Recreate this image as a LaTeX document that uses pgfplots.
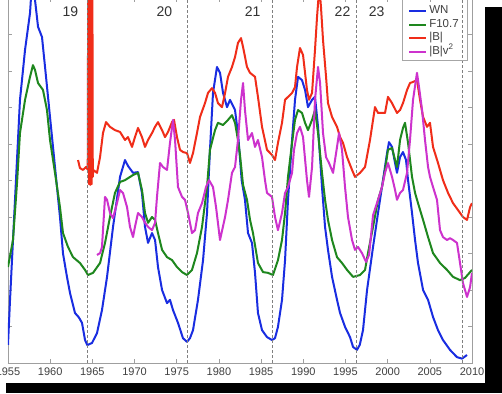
\documentclass[border=0pt]{standalone}
\usepackage{fontspec}
\setmainfont{Liberation Sans}
\usepackage{pgfplots}
\pgfplotsset{compat=1.18}
\definecolor{cWN}{RGB}{25,45,225}
\definecolor{cF}{RGB}{30,135,30}
\definecolor{cB}{RGB}{240,45,25}
\definecolor{cBV}{RGB}{205,50,205}
\begin{document}
\begin{tikzpicture}[x=1pt,y=1pt]
\useasboundingbox (0,0) rectangle (502,393);
\clip (0,0) rectangle (502,393);
\fill[white] (0,0) rectangle (502,393);
\begin{axis}[
  at={(8pt,30pt)}, anchor=south west,
  scale only axis, width=464pt, height=365pt,
  xmin=1955, xmax=2010, ymin=0, ymax=10,
  xtick={1955,1960,...,2010},
  xticklabels={1955,1960,1965,1970,1975,1980,1985,1990,1995,2000,2005,2010},
  ytick={0,...,10}, yticklabels={},
  tick align=inside,
  axis line style={gray!75},
  tick style={gray!75, line width=0.5pt},
  major tick length=4pt,
  xticklabel style={font=\fontsize{11}{13}\selectfont, text=black!75, yshift=-1.5pt},
  legend style={name=leg, draw=none, fill=none, at={(0.989,0.830)}, anchor=south east,
    font=\fontsize{11.5}{13}\selectfont, text=black!75, inner ysep=1.5pt, inner xsep=6pt,
    nodes={inner ysep=1.5pt, text height=8pt, text depth=2.5pt},
    /tikz/every even column/.append style={column sep=3pt}},
  legend cell align=left,
]
\addplot[cWN, line width=2pt, line join=round] coordinates {
(1955.0,0.5) (1955.24,1.73) (1955.83,4.47) (1956.42,7.21) (1957.02,8.58) (1957.61,9.59) (1957.95,10.8) (1958.2,9.95)
(1958.56,9.21) (1959.03,8.93) (1959.39,8.11) (1959.98,6.74) (1960.57,5.37) (1961.16,4.00) (1961.52,3.0) (1961.99,2.36)
(1962.35,1.92) (1962.94,1.37) (1963.4,1.25) (1963.77,1.10) (1964.13,0.63) (1964.4,0.49) (1964.96,0.55) (1965.55,0.82)
(1966.14,1.45) (1966.74,2.36) (1967.45,3.73) (1968.28,5.10) (1968.87,5.56) (1969.22,5.4) (1969.82,5.21) (1970.41,5.23)
(1970.88,4.66) (1971.24,3.73) (1971.6,3.29) (1972.07,3.56) (1972.43,3.37) (1972.78,2.63) (1973.26,2.00) (1973.85,1.64)
(1974.2,1.73) (1974.56,1.45) (1975.15,1.10) (1975.74,0.68) (1976.22,0.58) (1976.57,0.68) (1976.93,0.90) (1977.52,1.73)
(1978.12,2.82) (1978.59,4.11) (1978.94,5.84) (1979.3,7.40) (1979.77,8.11) (1980.13,7.95) (1980.49,7.40) (1980.96,7.01)
(1981.32,7.21) (1981.91,6.93) (1982.3,6.2) (1982.7,5.0) (1983.09,4.47) (1983.45,3.56) (1983.92,3.29) (1984.28,2.47)
(1984.63,1.37) (1985.11,0.90) (1985.7,0.71) (1986.29,0.63) (1986.65,0.68) (1987.0,0.99) (1987.48,1.73) (1987.84,2.82)
(1988.19,4.47) (1988.67,6.11) (1989.02,7.21) (1989.38,7.84) (1989.85,7.75) (1990.21,7.48) (1990.56,7.01) (1991.04,7.21)
(1991.39,7.29) (1991.75,6.47) (1992.22,4.82) (1992.58,3.73) (1992.93,3.10) (1993.41,2.36) (1994.0,1.73) (1994.36,1.37)
(1994.95,0.99) (1995.54,0.71) (1995.9,0.44) (1996.37,0.36) (1996.7,0.5) (1997.08,0.90) (1997.56,2.00) (1998.27,3.18)
(1998.86,4.11) (1999.45,5.01) (1999.93,5.75) (2000.16,6.05) (2000.52,5.92) (2000.88,5.48) (2001.11,5.21) (2001.47,5.64)
(2001.82,5.78) (2002.18,5.56) (2002.42,5.01) (2002.89,4.11) (2003.25,3.37) (2003.6,2.74) (2004.2,2.00) (2004.79,1.73)
(2005.38,1.26) (2005.97,0.90) (2006.56,0.63) (2007.39,0.36) (2008.22,0.16) (2008.82,0.12) (2009.41,0.22)
};
\addlegendentry{WN}
\addplot[cF, line width=2pt, line join=round] coordinates {
(1955.0,2.63) (1955.59,3.37) (1956.07,4.93) (1956.42,6.30) (1957.02,7.21) (1957.61,7.84) (1957.96,8.16) (1958.2,8.03)
(1958.56,7.67) (1959.15,7.48) (1959.62,6.93) (1959.98,6.11) (1960.57,5.21) (1961.16,4.27) (1961.52,3.56) (1962.11,3.18)
(1962.71,2.90) (1963.53,2.74) (1964.13,2.55) (1964.48,2.41) (1965.08,2.47) (1965.91,2.74) (1966.5,3.29) (1967.09,4.00)
(1967.68,4.66) (1968.28,4.96) (1968.87,5.01) (1969.82,5.15) (1970.41,5.21) (1970.88,4.74) (1971.24,4.11) (1971.6,3.84)
(1972.07,4.00) (1972.43,3.92) (1972.78,3.56) (1973.26,3.10) (1973.85,2.90) (1974.44,2.82) (1975.03,2.63) (1975.63,2.49)
(1976.22,2.41) (1976.81,2.55) (1977.4,3.01) (1978.0,3.73) (1978.59,4.82) (1978.94,5.84) (1979.54,6.38) (1979.89,6.58)
(1980.49,6.52) (1981.08,6.66) (1981.55,6.79) (1981.91,6.58) (1982.26,6.11) (1982.5,5.70) (1982.86,4.88) (1983.33,4.47)
(1983.69,3.92) (1984.04,3.56) (1984.63,2.74) (1985.23,2.49) (1985.82,2.47) (1986.41,2.41) (1987.0,2.82) (1987.48,3.37)
(1987.84,4.11) (1988.19,5.10) (1988.67,6.03) (1989.02,6.66) (1989.38,6.93) (1989.85,6.85) (1990.21,6.58) (1990.56,6.38)
(1991.04,6.66) (1991.39,6.93) (1991.75,6.30) (1992.22,5.21) (1992.58,4.47) (1992.93,3.92) (1993.41,3.37) (1994.0,2.90)
(1994.59,2.74) (1995.19,2.55) (1995.9,2.36) (1996.73,2.41) (1997.32,2.55) (1997.67,3.01) (1998.27,3.73) (1998.86,4.47)
(1999.33,4.82) (1999.69,5.29) (2000.04,5.84) (2000.52,5.89) (2000.88,5.56) (2001.11,5.37) (2001.47,6.11) (2001.82,6.44)
(2002.06,6.58) (2002.42,6.03) (2002.89,5.10) (2003.25,4.66) (2003.6,4.38) (2004.2,3.92) (2004.79,3.45) (2005.38,3.01)
(2006.21,2.74) (2007.04,2.55) (2007.75,2.36) (2008.58,2.27) (2009.17,2.33) (2009.77,2.49) (2010.0,2.55)
};
\addlegendentry{F10.7}
\addplot[cB, line width=2pt, line join=round] coordinates {
(1963.3,5.56) (1963.53,5.34) (1963.89,5.29) (1964.25,5.37) (1964.45,5.3) (1964.52,12) (1964.6,4.9) (1964.68,12) (1964.76,4.88)
(1964.84,12) (1964.92,4.9) (1964.99,12) (1965.05,5.1) (1965.1,5.29) (1965.55,5.21) (1965.91,5.64) (1966.26,6.30)
(1966.62,6.60) (1967.09,6.47) (1967.68,6.38) (1968.28,6.33) (1968.87,6.11) (1969.22,6.19) (1969.7,5.92) (1970.05,6.19)
(1970.41,6.44) (1970.88,6.19) (1971.24,5.92) (1971.6,6.11) (1972.07,6.30) (1972.43,6.47) (1972.78,6.60) (1973.26,6.38)
(1973.61,6.19) (1973.97,6.33) (1974.44,6.60) (1974.68,6.66) (1975.03,6.19) (1975.39,5.84) (1975.74,5.78) (1976.22,5.75)
(1976.57,5.48) (1976.93,5.75) (1977.4,6.30) (1977.76,6.74) (1978.35,7.12) (1978.71,7.40) (1979.18,7.53) (1979.54,7.40)
(1979.89,7.12) (1980.37,7.01) (1980.73,7.40) (1981.08,7.84) (1981.55,8.11) (1981.91,8.38) (1982.26,8.77) (1982.62,8.90)
(1982.86,8.66) (1983.33,8.11) (1983.69,7.95) (1984.28,7.84) (1984.63,7.29) (1985.11,6.47) (1985.7,5.84) (1986.29,5.70)
(1986.65,5.56) (1987.0,6.03) (1987.48,6.58) (1987.84,7.21) (1988.19,7.29) (1988.67,7.40) (1989.02,7.56) (1989.26,8.11)
(1989.61,8.63) (1989.97,8.44) (1990.44,7.48) (1990.68,7.21) (1991.04,7.40) (1991.39,8.58) (1991.63,9.48) (1991.9,10.3)
(1992.1,9.75) (1992.34,8.85) (1992.7,7.84) (1992.93,7.12) (1993.41,6.74) (1994.0,6.47) (1994.36,6.19) (1994.71,6.03)
(1995.19,5.64) (1995.78,5.29) (1996.13,5.10) (1996.73,5.21) (1997.32,5.37) (1997.91,6.11) (1998.5,7.01) (1998.86,6.85)
(1999.33,6.85) (1999.69,6.85) (2000.04,7.29) (2000.52,7.12) (2001.11,6.85) (2001.47,6.93) (2001.82,7.12) (2002.3,7.48)
(2002.65,7.67) (2003.01,7.70) (2003.48,7.75) (2003.84,7.21) (2004.2,6.74) (2004.67,6.47) (2005.02,6.58) (2005.38,5.92)
(2005.97,5.48) (2006.56,5.01) (2007.16,4.66) (2007.75,4.38) (2008.34,4.19) (2008.93,4.00) (2009.41,3.92) (2009.77,4.27)
(2010.0,4.38)
};
\addlegendentry{|B|}
\addplot[cBV, line width=2pt, line join=round] coordinates {
(1965.55,2.96) (1965.91,3.01) (1966.14,3.18) (1966.26,3.64) (1966.5,4.55) (1966.74,4.47) (1967.09,4.11) (1967.45,3.97)
(1967.92,4.38) (1968.28,4.74) (1968.63,4.66) (1969.11,4.27) (1969.46,3.73) (1969.82,3.45) (1970.05,3.73) (1970.41,4.11)
(1970.88,4.00) (1971.24,3.84) (1971.6,3.73) (1972.07,3.64) (1972.43,3.84) (1972.66,4.55) (1973.02,5.48) (1973.37,5.37)
(1973.85,5.29) (1974.2,6.03) (1974.56,6.66) (1974.8,6.11) (1975.15,4.82) (1975.63,4.55) (1975.98,4.47) (1976.34,4.11)
(1976.81,3.56) (1977.17,3.64) (1977.52,4.11) (1978.0,4.38) (1978.47,4.82) (1978.83,5.01) (1979.3,4.82) (1979.66,4.27)
(1980.13,3.37) (1980.73,4.00) (1981.08,4.47) (1981.55,5.21) (1981.91,5.37) (1982.26,6.11) (1982.62,7.21) (1982.86,7.67)
(1983.09,6.93) (1983.45,6.11) (1983.92,6.30) (1984.28,5.92) (1984.63,6.11) (1985.11,5.64) (1985.46,5.01) (1985.7,4.66)
(1986.29,4.55) (1986.65,4.00) (1987.0,3.64) (1987.48,4.11) (1987.84,4.66) (1988.19,4.82) (1988.67,5.21) (1988.9,5.84)
(1989.26,6.30) (1989.61,6.47) (1989.97,6.19) (1990.44,5.01) (1990.68,4.55) (1991.04,5.37) (1991.39,7.21) (1991.75,8.11)
(1991.99,7.67) (1992.34,6.30) (1992.7,5.64) (1993.05,5.48) (1993.53,5.21) (1994.0,5.92) (1994.24,6.30) (1994.59,5.84)
(1994.95,4.82) (1995.3,4.00) (1995.78,3.37) (1996.13,3.10) (1996.49,3.18) (1996.96,3.01) (1997.44,2.77) (1997.8,2.96)
(1998.27,4.05) (1998.86,4.47) (1999.33,4.82) (1999.69,5.21) (2000.04,5.48) (2000.52,5.10) (2000.88,4.74) (2001.11,4.47)
(2001.47,4.66) (2001.82,4.74) (2002.3,5.21) (2002.65,6.11) (2003.01,7.21) (2003.48,7.95) (2003.72,7.56) (2004.08,6.93)
(2004.43,6.11) (2004.79,5.37) (2005.02,5.10) (2005.38,4.82) (2005.85,4.47) (2006.21,3.64) (2006.56,3.45) (2007.04,3.37)
(2007.39,3.42) (2007.75,3.37) (2008.22,3.29) (2008.58,2.74) (2008.93,2.19) (2009.41,1.81) (2009.77,2.08) (2010.0,2.47)
};
\addlegendentry{|B|v\textsuperscript{2}}
\pgfplotsinvokeforeach{1964.45,1976.2,1986.3,1996.3,2008.8}{
  \addplot[forget plot, gray, line width=0.5pt, dash pattern=on 3pt off 2pt] coordinates {(#1,0) (#1,10)};
}
\node[font=\fontsize{14}{16}\selectfont, text=black!80] at (axis cs:1962.4,9.62) {19};
\node[font=\fontsize{14}{16}\selectfont, text=black!80] at (axis cs:1973.55,9.62) {20};
\node[font=\fontsize{14}{16}\selectfont, text=black!80] at (axis cs:1984.0,9.62) {21};
\node[font=\fontsize{14}{16}\selectfont, text=black!80] at (axis cs:1994.65,9.62) {22};
\node[font=\fontsize{14}{16}\selectfont, text=black!80] at (axis cs:1998.7,9.62) {23};
\end{axis}
\draw[gray!70, line width=0.5pt] ([yshift=30pt]leg.north west) -- (leg.south west) -- (leg.south east) -- ([yshift=30pt]leg.north east);
\fill[black] (485,0) rectangle (502,386);
\fill[black] (6,0) rectangle (502,10);
\end{tikzpicture}
\end{document}
